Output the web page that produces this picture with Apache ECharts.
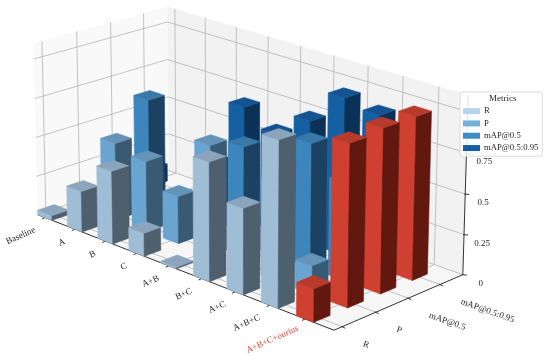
<!DOCTYPE html>
<html>
<head>
<meta charset="utf-8">
<script src="https://cdn.jsdelivr.net/npm/echarts@6/dist/echarts.min.js"></script>
<style>html,body{margin:0;background:#fff}#chart{width:550px;height:360px}</style>
</head>
<body>
<div id="chart"></div>
<script>
const CATEGORIES = ['Baseline', 'A', 'B', 'C', 'A+B', 'B+C', 'A+C', 'A+B+C', 'A+B+C+ourius'];
const METRICS = ['R', 'P', 'mAP@0.5', 'mAP@0.5:0.95'];
const Z_TICKS = [0, 0.25, 0.5, 0.75, 1];
const Z_LABELS = ['0', '0.25', '0.5', '0.75', ''];

const R_VALUES = [0.03, 0.26, 0.46, 0.145, 0.01, 0.73, 0.525, 1.0, 0.2];
const P_VALUES = [0.05, 0.495, 0.45, 0.3, 0.69, 0.3, 0.45, 0.175, 0.98];
const MAP50_VALUES = [0.1, 0.705, 0.05, 0.3, 0.61, 0.45, 0.77, 0.6, 1.0];
const MAP95_VALUES = [0.115, 0, 0.3, 0.725, 0.62, 0.77, 0.98, 0.94, 1.0];

const X_RANGE = [-0.25, 8.8];
const Y_RANGE = [-0.24, 3.74];
const Z_RANGE = [0, 1.1];
const BAR_HALF = 0.24;

// where the box corners land on screen, the projection is fitted from these
const BOX_CORNERS = [
    [0, 0, 0, 38, 215], [1, 0, 0, 334, 330], [1, 1, 0, 463, 275], [0, 1, 0, 168, 170],
    [0, 1, 1, 168, 7], [0, 0, 1, 33, 43], [1, 1, 1, 468, 95]
];

const BAR_COLORS = [
    {side: '#a0bdd6', dark: '#4e5f6e', top: '#8ca5bc', legend: '#b5d3ec'},
    {side: '#6aa5d2', dark: '#3a5a73', top: '#6594b8', legend: '#72b0dc'},
    {side: '#3d85bd', dark: '#1c4263', top: '#3a78a8', legend: '#3f8bc4'},
    {side: '#155fa3', dark: '#0a3158', top: '#145391', legend: '#135ea6'}
];
const RED_COLORS = {side: '#cf4030', dark: '#63180f', top: '#b83a2c'};
const FONT = '"Liberation Serif"';

function solve(A, b) {
    const n = b.length;
    for (let i = 0; i < n; i++) {
        let p = i;
        for (let r = i + 1; r < n; r++) if (Math.abs(A[r][i]) > Math.abs(A[p][i])) p = r;
        [A[i], A[p]] = [A[p], A[i]];
        [b[i], b[p]] = [b[p], b[i]];
        for (let r = i + 1; r < n; r++) {
            const f = A[r][i] / A[i][i];
            for (let c = i; c < n; c++) A[r][c] -= f * A[i][c];
            b[r] -= f * b[i];
        }
    }
    const out = new Array(n).fill(0);
    for (let i = n - 1; i >= 0; i--) {
        let s = b[i];
        for (let c = i + 1; c < n; c++) s -= A[i][c] * out[c];
        out[i] = s / A[i][i];
    }
    return out;
}

function fitProjection(corners) {
    const rows = [], rhs = [];
    corners.forEach(([u, v, w, x, y]) => {
        rows.push([u, v, w, 1, 0, 0, 0, 0, -x * u, -x * v, -x * w]);
        rhs.push(x);
        rows.push([0, 0, 0, 0, u, v, w, 1, -y * u, -y * v, -y * w]);
        rhs.push(y);
    });
    const AtA = [], Atb = [];
    for (let i = 0; i < 11; i++) {
        AtA.push([]);
        Atb.push(rows.reduce((s, r, k) => s + r[i] * rhs[k], 0));
        for (let j = 0; j < 11; j++) AtA[i].push(rows.reduce((s, r) => s + r[i] * r[j], 0));
    }
    return solve(AtA, Atb);
}

const PROJ = fitProjection(BOX_CORNERS);

function project(u, v, w) {
    const d = PROJ[8] * u + PROJ[9] * v + PROJ[10] * w + 1;
    return [
        (PROJ[0] * u + PROJ[1] * v + PROJ[2] * w + PROJ[3]) / d,
        (PROJ[4] * u + PROJ[5] * v + PROJ[6] * w + PROJ[7]) / d
    ];
}

const normU = val => echarts.number.linearMap(val, X_RANGE, [0, 1]);
const normV = val => echarts.number.linearMap(val, Y_RANGE, [0, 1]);
const normW = val => echarts.number.linearMap(val, Z_RANGE, [0, 1]);

function polygon(points, fill, stroke, lineWidth) {
    return {
        type: 'polygon',
        shape: {points: points},
        style: {fill: fill, stroke: stroke || fill, lineWidth: lineWidth === undefined ? 0.6 : lineWidth}
    };
}

function line(a, b, color, width) {
    return {
        type: 'line',
        shape: {x1: a[0], y1: a[1], x2: b[0], y2: b[1]},
        style: {stroke: color, lineWidth: width}
    };
}

function label(pos, text, rotation, align, color) {
    return {
        type: 'text',
        x: pos[0],
        y: pos[1],
        rotation: rotation,
        style: {
            text: text, fill: color || '#262626', align: align, verticalAlign: 'middle',
            font: '9px ' + FONT
        }
    };
}

function renderFrame() {
    const GRID = '#b4b4b4', AXIS = '#333333';
    const kids = [
        polygon([project(0, 0, 0), project(1, 0, 0), project(1, 1, 0), project(0, 1, 0)], '#f6f6f6', 'none', 0),
        polygon([project(0, 0, 0), project(0, 1, 0), project(0, 1, 1), project(0, 0, 1)], '#f9f9f9', 'none', 0),
        polygon([project(0, 1, 0), project(1, 1, 0), project(1, 1, 1), project(0, 1, 1)], '#f2f2f2', 'none', 0)
    ];
    CATEGORIES.forEach((name, i) => {
        const u = normU(i);
        kids.push(line(project(u, 0, 0), project(u, 1, 0), GRID, 0.8));
        kids.push(line(project(u, 1, 0), project(u, 1, 1), GRID, 0.8));
    });
    METRICS.forEach((name, j) => {
        const v = normV(j);
        kids.push(line(project(0, v, 0), project(1, v, 0), GRID, 0.8));
        kids.push(line(project(0, v, 0), project(0, v, 1), GRID, 0.8));
    });
    Z_TICKS.forEach(t => {
        const w = normW(t);
        kids.push(line(project(0, 0, w), project(0, 1, w), GRID, 0.8));
        kids.push(line(project(0, 1, w), project(1, 1, w), GRID, 0.8));
    });
    // axis lines and ticks
    kids.push(line(project(0, 0, 0), project(1, 0, 0), AXIS, 1));
    kids.push(line(project(1, 0, 0), project(1, 1, 0), AXIS, 1));
    kids.push(line(project(1, 1, 0), project(1, 1, 1), AXIS, 1));
    CATEGORIES.forEach((name, i) => {
        const p = project(normU(i), 0, 0);
        kids.push(line([p[0] + 1, p[1] - 0.5], [p[0] - 3, p[1] + 1.5], AXIS, 1));
        const last = i === CATEGORIES.length - 1;
        kids.push(label([p[0] - (last ? 7 : 10), p[1] + (last ? 9 : 12)], name, 0.42, 'right',
            last ? '#e8413a' : '#262626'));
    });
    METRICS.forEach((name, j) => {
        const p = project(1, normV(j), 0);
        kids.push(line([p[0] - 1, p[1] - 0.5], [p[0] + 3, p[1] + 1.5], AXIS, 1));
        kids.push(label([p[0] + 21, p[1] + 17], name, -0.34, 'left'));
    });
    Z_TICKS.forEach((t, k) => {
        const p = project(1, 1, normW(t));
        kids.push(line([p[0] - 1, p[1]], [p[0] + 4, p[1] + 0.5], AXIS, 1));
        kids.push(label([p[0] + 18, p[1] + 9], Z_LABELS[k], 0, 'center'));
    });
    return {type: 'group', children: kids};
}

function barRenderer(metricIndex) {
    const v0 = normV(metricIndex - BAR_HALF), v1 = normV(metricIndex + BAR_HALF);
    return function (params, api) {
        if (!api.value(1)) {
            return null;
        }
        const cs = params.coordSys;
        const cat = api.value(0);
        const a = api.coord([cat - BAR_HALF, api.value(1)]);
        const b = api.coord([cat + BAR_HALF, 0]);
        const u0 = (a[0] - cs.x) / cs.width, u1 = (b[0] - cs.x) / cs.width;
        const top = 1 - (a[1] - cs.y) / cs.height;
        const colors = cat === CATEGORIES.length - 1 ? RED_COLORS : BAR_COLORS[metricIndex];
        return {
            type: 'group',
            children: [
                polygon([project(u0, v0, 0), project(u1, v0, 0), project(u1, v0, top), project(u0, v0, top)], colors.side),
                polygon([project(u1, v0, 0), project(u1, v1, 0), project(u1, v1, top), project(u1, v0, top)], colors.dark),
                polygon([project(u0, v0, top), project(u1, v0, top), project(u1, v1, top), project(u0, v1, top)], colors.top)
            ]
        };
    };
}

const chart = echarts.init(document.getElementById('chart'), null, {renderer: 'canvas'});
const valuesByMetric = [R_VALUES, P_VALUES, MAP50_VALUES, MAP95_VALUES];

// far row first so the near bars paint over it
const barSeries = METRICS.map((name, j) => ({
    name: name,
    type: 'custom',
    coordinateSystem: 'cartesian2d',
    renderItem: barRenderer(j),
    clip: false,
    silent: true,
    z: 3 + (METRICS.length - j),
    itemStyle: {color: BAR_COLORS[j].legend},
    data: valuesByMetric[j].map((val, i) => [i, val])
})).reverse();

chart.setOption({
    animation: false,
    backgroundColor: '#ffffff',
    grid: {left: 0, right: 0, top: 0, bottom: 0},
    xAxis: {type: 'value', min: X_RANGE[0], max: X_RANGE[1], show: false},
    yAxis: {type: 'value', min: Z_RANGE[0], max: Z_RANGE[1], show: false},
    title: {
        text: 'Metrics',
        left: 489,
        top: 93,
        padding: 0,
        z: 12,
        textStyle: {fontFamily: FONT, fontSize: 9, fontWeight: 'normal', color: '#262626', lineHeight: 12}
    },
    legend: {
        left: 460,
        top: 92,
        orient: 'vertical',
        padding: [14, 4, 3, 3],
        itemWidth: 17,
        itemHeight: 6,
        itemGap: 2,
        icon: 'rect',
        backgroundColor: 'rgba(255,255,255,0.85)',
        borderColor: '#dcdcdc',
        borderWidth: 1,
        borderRadius: 2,
        z: 10,
        selectedMode: false,
        textStyle: {fontFamily: FONT, fontSize: 8.7, color: '#262626', padding: [0, 0, 0, -1], lineHeight: 10.3},
        data: METRICS
    },
    series: [{
        type: 'custom',
        coordinateSystem: 'none',
        renderItem: renderFrame,
        silent: true,
        z: 1,
        data: [0]
    }].concat(barSeries)
});
</script>
</body>
</html>
